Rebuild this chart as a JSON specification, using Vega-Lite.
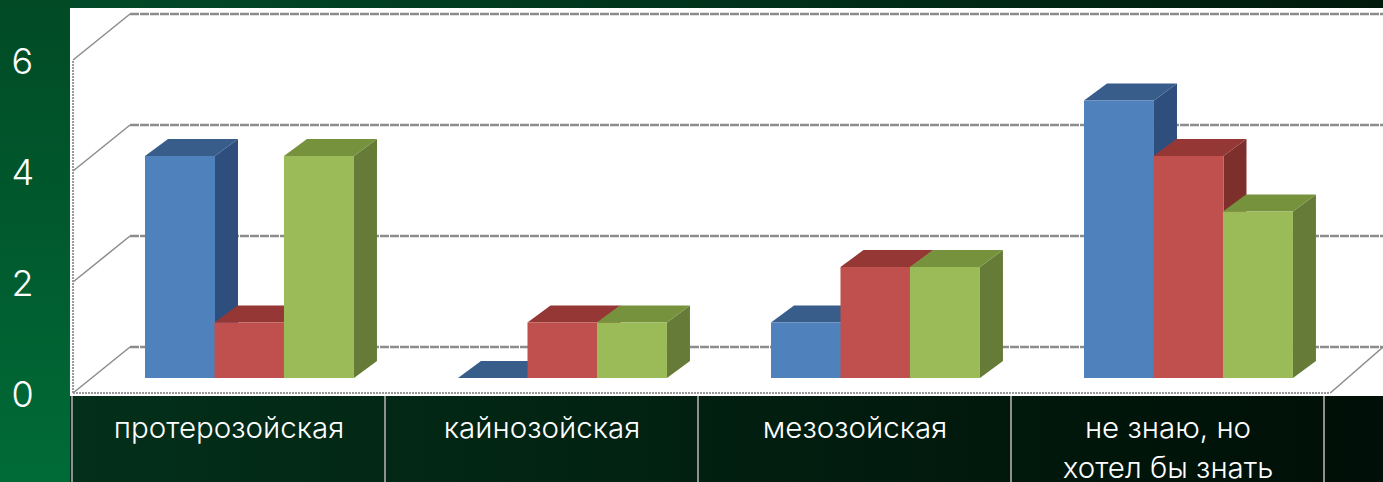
{
"$schema":"https://vega.github.io/schema/vega-lite/v6.json",
"width":1383,"height":482,"padding":0,"autosize":"none",
"background":"#00401f",
"config":{"view":{"stroke":null}},
"datasets":{
"bars":[
{"category":"протерозойская","series":"Ряд 1","value":4},
{"category":"протерозойская","series":"Ряд 2","value":1},
{"category":"протерозойская","series":"Ряд 3","value":4},
{"category":"кайнозойская","series":"Ряд 1","value":0},
{"category":"кайнозойская","series":"Ряд 2","value":1},
{"category":"кайнозойская","series":"Ряд 3","value":1},
{"category":"мезозойская","series":"Ряд 1","value":1},
{"category":"мезозойская","series":"Ряд 2","value":2},
{"category":"мезозойская","series":"Ряд 3","value":2},
{"category":"не знаю, но хотел бы знать","series":"Ряд 1","value":5},
{"category":"не знаю, но хотел бы знать","series":"Ряд 2","value":4},
{"category":"не знаю, но хотел бы знать","series":"Ряд 3","value":3}
],
"levels":[{"level":0},{"level":2},{"level":4},{"level":6}],
"cells":[{"c":0},{"c":1},{"c":2},{"c":3},{"c":4}]
},
"layer":[
{"data":{"values":[{"a":1}]},"mark":{"type":"rect","color":{"gradient":"linear","x1":0,"y1":0,"x2":0,"y2":1,"stops":[{"offset":0,"color":"#014a25"},{"offset":1,"color":"#006b37"}]}},
"encoding":{"x":{"datum":-0.2301,"type":"quantitative","scale":{"domain":[-0.2301,4.1885],"nice":false,"zero":false},"axis":null},"x2":{"datum":-0.0065},"y":{"datum":-1.6036,"type":"quantitative","scale":{"domain":[-1.6036,7.0811],"nice":false,"zero":false},"axis":null},"y2":{"datum":7.0811}}},
{"data":{"values":[{"a":1}]},"mark":{"type":"rect","color":{"gradient":"linear","x1":0,"y1":0,"x2":1,"y2":0,"stops":[{"offset":0,"color":"#014a28"},{"offset":1,"color":"#00190c"}]}},
"encoding":{"x":{"datum":-0.0065,"type":"quantitative","axis":null},"x2":{"datum":4.1885},"y":{"datum":6.937,"type":"quantitative","axis":null},"y2":{"datum":7.0811}}},
{"data":{"values":[{"a":1}]},"mark":{"type":"rect","color":{"gradient":"linear","x1":0,"y1":0,"x2":1,"y2":0,"stops":[{"offset":0,"color":"#03301a"},{"offset":1,"color":"#000f07"}]}},
"encoding":{"x":{"datum":-0.0065,"type":"quantitative","axis":null},"x2":{"datum":4.1885},"y":{"datum":-1.6036,"type":"quantitative","axis":null},"y2":{"datum":-0.054}}},
{"data":{"values":[{"a":1}]},"mark":{"type":"rect","color":"#ffffff"},
"encoding":{"x":{"datum":-0.0065,"type":"quantitative","axis":null},"x2":{"datum":4.1885},"y":{"datum":-0.054,"type":"quantitative","axis":null},"y2":{"datum":6.937}}},
{"data":{"name":"cells"},"mark":{"type":"rule","color":"#8f8f8f","strokeWidth":2},
"encoding":{"x":{"field":"c","type":"quantitative","axis":null},"y":{"datum":-1.6036,"type":"quantitative","axis":null},"y2":{"datum":-0.054}}},
{"data":{"name":"levels"},"mark":{"type":"rule","color":"#8c8c8c","strokeWidth":2.5,"strokeDash":[9,1]},
"encoding":{"x":{"datum":0.1853,"type":"quantitative","axis":null},"x2":{"datum":4.1885},"y":{"field":"back","type":"quantitative","axis":null}},
"transform":[{"calculate":"datum.level+0.829","as":"back"}]},
{"data":{"name":"levels"},"mark":{"type":"rule","color":"#8c8c8c","strokeWidth":1.5},
"transform":[{"calculate":"datum.level+0.829","as":"back"}],
"encoding":{"x":{"datum":0.0032,"type":"quantitative","axis":null},"x2":{"datum":0.1853},"y":{"field":"level","type":"quantitative","axis":null},"y2":{"field":"back"}}},
{"data":{"values":[{"a":1}]},"mark":{"type":"rule","color":"#9a9a9a","strokeWidth":2,"strokeDash":[2,1]},
"encoding":{"x":{"datum":0.0032,"type":"quantitative","axis":null},"y":{"datum":0,"type":"quantitative","axis":null},"y2":{"datum":6}}},
{"data":{"values":[{"a":1}]},"mark":{"type":"rule","color":"#9a9a9a","strokeWidth":2,"strokeDash":[2,1]},
"encoding":{"x":{"datum":0.0032,"type":"quantitative","axis":null},"x2":{"datum":4.02},"y":{"datum":0,"type":"quantitative","axis":null}}},
{"data":{"values":[{"a":1}]},"mark":{"type":"rule","color":"#8c8c8c","strokeWidth":1.5},
"encoding":{"x":{"datum":4.02,"type":"quantitative","axis":null},"x2":{"datum":4.1885},"y":{"datum":0,"type":"quantitative","axis":null},"y2":{"datum":0.829}}},
{"data":{"name":"bars"},
"transform":[
{"calculate":"indexof(['протерозойская','кайнозойская','мезозойская','не знаю, но хотел бы знать'],datum.category)+0.2332+indexof(['Ряд 1','Ряд 2','Ряд 3'],datum.series)*0.222","as":"xL"},
{"calculate":"[0,1,2,3]","as":"k"},{"flatten":["k"]},
{"calculate":"datum.xL+0.2236+(datum.k==0||datum.k==3?0:0.0735)","as":"vx"},
{"calculate":"0.27+(datum.k==0||datum.k==3?0:0.306)+(datum.k<2?0:datum.value)","as":"vy"}
],
"mark":{"type":"line","filled":true,"strokeWidth":0},
"encoding":{"x":{"field":"vx","type":"quantitative","axis":null},"y":{"field":"vy","type":"quantitative","axis":null},"order":{"field":"k","type":"quantitative"},"detail":{"field":"xL","type":"quantitative"},
"fill":{"field":"series","type":"nominal","legend":null,"scale":{"domain":["Ряд 1","Ряд 2","Ряд 3"],"range":["#2e4f7e","#7d2f2c","#667b38"]}}}},
{"data":{"name":"bars"},
"transform":[
{"calculate":"indexof(['протерозойская','кайнозойская','мезозойская','не знаю, но хотел бы знать'],datum.category)+0.2332+indexof(['Ряд 1','Ряд 2','Ряд 3'],datum.series)*0.222","as":"xL"},
{"calculate":"[0,1,2,3]","as":"k"},{"flatten":["k"]},
{"calculate":"datum.xL+(datum.k==0||datum.k==1?0:0.2236)+(datum.k==1||datum.k==2?0.0735:0)","as":"vx"},
{"calculate":"0.27+datum.value+(datum.k==1||datum.k==2?0.306:0)","as":"vy"}
],
"mark":{"type":"line","filled":true,"strokeWidth":0},
"encoding":{"x":{"field":"vx","type":"quantitative","axis":null},"y":{"field":"vy","type":"quantitative","axis":null},"order":{"field":"k","type":"quantitative"},"detail":{"field":"xL","type":"quantitative"},
"fill":{"field":"series","type":"nominal","legend":null,"scale":{"domain":["Ряд 1","Ряд 2","Ряд 3"],"range":["#385d8a","#953735","#76923c"]}}}},
{"data":{"name":"bars"},
"transform":[
{"calculate":"indexof(['протерозойская','кайнозойская','мезозойская','не знаю, но хотел бы знать'],datum.category)+0.2332+indexof(['Ряд 1','Ряд 2','Ряд 3'],datum.series)*0.222","as":"xL"},
{"calculate":"datum.xL+0.2236","as":"xR"},
{"calculate":"datum.value+0.27","as":"top"},
{"calculate":"0.27","as":"base"}
],
"mark":{"type":"rect"},
"encoding":{
"x":{"field":"xL","type":"quantitative","axis":{"title":null,"orient":"bottom","offset":-72,"values":[0.5,1.5,2.5,3.5],"domain":false,"ticks":false,"grid":false,"labelColor":"#ffffff","labelFont":"Inter","labelFontSize":29.5,"labelFontWeight":300,"labelPadding":4,"labelBaseline":"top","labelAlign":"center","labelLineHeight":40,"labelLimit":400,"labelOverlap":false,"labelFlush":false,"zindex":2,"labelExpr":"datum.value==0.5?'протерозойская':datum.value==1.5?'кайнозойская':datum.value==2.5?'мезозойская':['не знаю, но','хотел бы знать']"}},
"x2":{"field":"xR"},
"y":{"field":"top","type":"quantitative","axis":{"title":null,"orient":"left","values":[0,2,4,6],"domain":false,"ticks":false,"grid":false,"labelColor":"#ffffff","labelFont":"Inter","labelFontSize":36,"labelFontWeight":300,"labelPadding":-11,"labelOffset":2,"labelAlign":"left","labelBaseline":"middle","labelOverlap":false,"labelFlush":false,"zindex":2}},
"y2":{"field":"base"},
"fill":{"field":"series","type":"nominal","legend":null,"scale":{"domain":["Ряд 1","Ряд 2","Ряд 3"],"range":["#4f81bd","#c0504d","#9bbb59"]}}}}
],
"resolve":{"scale":{"fill":"independent"},"axis":{"x":"independent","y":"independent"}}
}
